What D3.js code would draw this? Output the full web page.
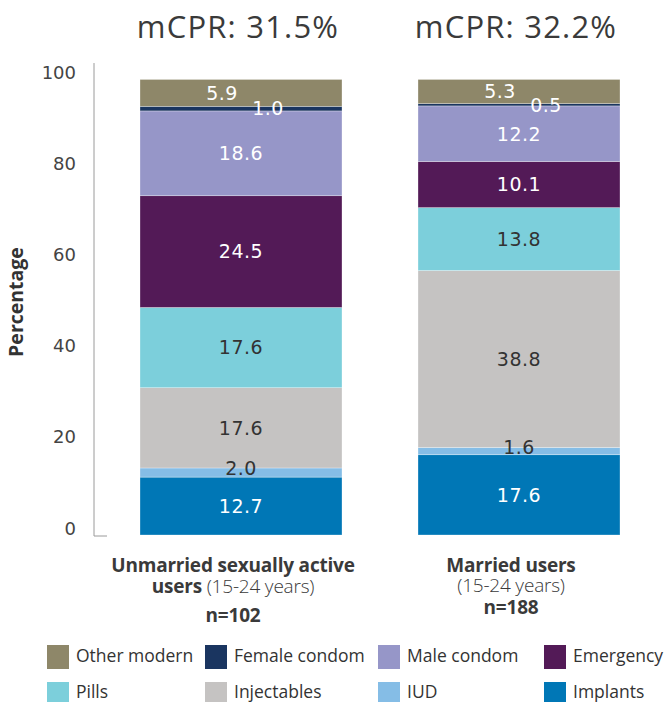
<!DOCTYPE html>
<html>
<head>
<meta charset="utf-8">
<script src="https://cdn.jsdelivr.net/npm/d3@7"></script>
<style>
  html, body { margin: 0; padding: 0; background: #fff; }
  svg { display: block; }
</style>
</head>
<body>
<svg id="chart" width="666" height="702"></svg>
<script>
// ---------- data ----------
const categories = ["Unmarried", "Married"];
const titles = ["mCPR: 31.5%", "mCPR: 32.2%"];
const methods = ["Implants", "IUD", "Injectables", "Pills", "Emergency", "Male condom", "Female condom", "Other modern"];
const unmarriedValues = [12.7, 2.0, 17.6, 17.6, 24.5, 18.6, 1.0, 5.9];
const marriedValues   = [17.6, 1.6, 38.8, 13.8, 10.1, 12.2, 0.5, 5.3];
const methodColors = ["#0077b6", "#85bde6", "#c5c3c2", "#7ccfdb", "#531a57", "#9696c8", "#1a3560", "#8e8769"];
const labelColors  = ["#ffffff", "#333333", "#333333", "#333333", "#ffffff", "#ffffff", "#ffffff", "#ffffff"];
const yTicks = [0, 20, 40, 60, 80, 100];
const legendRow1 = ["Other modern", "Female condom", "Male condom", "Emergency"];
const legendRow2 = ["Pills", "Injectables", "IUD", "Implants"];
const catLabels = [
  [{bold: "Unmarried sexually active", rest: ""}, {bold: "users", rest: " (15-24 years)"}, {bold: "n=102", rest: ""}],
  [{bold: "Married users", rest: ""}, {bold: "", rest: "(15-24 years)"}, {bold: "n=188", rest: ""}]
];
const seriesValues = [unmarriedValues, marriedValues];

// ---------- layout ----------
const svg = d3.select("#chart");
const sans = "'Open Sans', 'Noto Sans', sans-serif";

const x = d3.scaleBand().domain(categories).range([140, 620]).paddingInner(0.2734).paddingOuter(0);
const y = d3.scaleLinear().domain([0, 100]).range([535, 79]);

// stacked data
const rows = categories.map((c, i) => {
  const o = {cat: c};
  methods.forEach((m, j) => o[m] = seriesValues[i][j]);
  return o;
});
const stack = d3.stack().keys(methods)(rows);
const color = d3.scaleOrdinal().domain(methods).range(methodColors);
const lcolor = d3.scaleOrdinal().domain(methods).range(labelColors);

// axis
const axisX = 94;
svg.append("line").attr("x1", axisX).attr("x2", axisX)
  .attr("y1", y(103.5)).attr("y2", y(0) + 1)
  .attr("stroke", "#9a9a9a").attr("stroke-width", 1);
svg.append("line").attr("x1", axisX).attr("x2", axisX + 13)
  .attr("y1", y(0) + 1).attr("y2", y(0) + 1)
  .attr("stroke", "#9a9a9a").attr("stroke-width", 1);

const yAxis = d3.axisLeft(y).tickValues(yTicks).tickSize(0).tickPadding(0);
const gAxis = svg.append("g").attr("transform", `translate(${axisX - 18},0)`).call(yAxis);
gAxis.select(".domain").remove();
gAxis.selectAll("text")
  .attr("font-family", "'DejaVu Sans', sans-serif")
  .attr("font-size", 18)
  .attr("fill", "#444")
  .attr("dy", "-0.05em");

// y label
svg.append("text")
  .attr("transform", "translate(23,302) rotate(-90)")
  .attr("text-anchor", "middle")
  .attr("font-family", sans)
  .attr("font-weight", 700)
  .attr("font-size", 19.5)
  .attr("fill", "#333")
  .text("Percentage");

// bars
const layers = svg.append("g").selectAll("g").data(stack).join("g")
  .attr("fill", d => color(d.key));
layers.selectAll("rect").data(d => d).join("rect")
  .attr("x", d => x(d.data.cat))
  .attr("width", x.bandwidth())
  .attr("y", d => y(d[1]))
  .attr("height", d => y(d[0]) - y(d[1]))
  .attr("stroke", "#ffffff").attr("stroke-opacity", 0.5).attr("stroke-width", 0.6);

// value labels
stack.forEach((layer, li) => {
  layer.forEach((d, ci) => {
    const v = d[1] - d[0];
    const small = v < 3;
    const nextLayer = stack[li - 1];
    const belowSmall = li === stack.length - 1 && nextLayer && (nextLayer[ci][1] - nextLayer[ci][0]) < 3;
    let dx = 0, dy = 0;
    if (small && lcolor(layer.key) === "#ffffff") dx = 27;
    if (small && lcolor(layer.key) !== "#ffffff") dy = -4;
    if (belowSmall) dx = -19;
    svg.append("text")
      .attr("x", x(d.data.cat) + x.bandwidth() / 2 + dx)
      .attr("y", (y(d[0]) + y(d[1])) / 2 + dy)
      .attr("dy", "0.36em")
      .attr("text-anchor", "middle")
      .attr("font-family", "'DejaVu Sans', sans-serif")
      .attr("font-size", 19)
      .attr("letter-spacing", 0.5)
      .attr("fill", lcolor(layer.key))
      .text(v.toFixed(1));
  });
});

// titles
categories.forEach((c, i) => {
  svg.append("text")
    .attr("x", x(c) + x.bandwidth() / 2 - 3)
    .attr("y", 38)
    .attr("text-anchor", "middle")
    .attr("font-family", sans)
    .attr("font-weight", 400)
    .attr("font-size", 31)
    .attr("letter-spacing", 1.2)
    .attr("fill", "#3a3a3a")
    .text(titles[i]);
});

// category labels
const catLineY = [[572, 593, 622], [572, 592, 614]];
categories.forEach((c, i) => {
  const cx = x(c) + x.bandwidth() / 2 - 8;
  catLabels[i].forEach((ln, k) => {
    const t = svg.append("text")
      .attr("x", cx).attr("y", catLineY[i][k])
      .attr("text-anchor", "middle")
      .attr("font-family", sans)
      .attr("font-size", 19)
      .attr("fill", "#3a3a3a")
      .attr("letter-spacing", -0.2);
    if (ln.bold) t.append("tspan").attr("font-weight", 700).text(ln.bold);
    if (ln.rest) t.append("tspan").attr("font-weight", 300).text(ln.rest);
  });
});

// legend
const colX = [47, 205, 378, 544];
function legendRow(items, sy, ty) {
  items.forEach((m, k) => {
    svg.append("rect").attr("x", colX[k]).attr("y", sy).attr("width", 22).attr("height", 24)
      .attr("fill", color(m));
    svg.append("text").attr("x", colX[k] + 29).attr("y", ty).attr("dy", "0.35em")
      .attr("font-family", sans).attr("font-size", 17.5).attr("fill", "#333")
      .text(m);
  });
}
legendRow(legendRow1, 645, 656);
legendRow(legendRow2, 682, 692);
</script>
</body>
</html>
